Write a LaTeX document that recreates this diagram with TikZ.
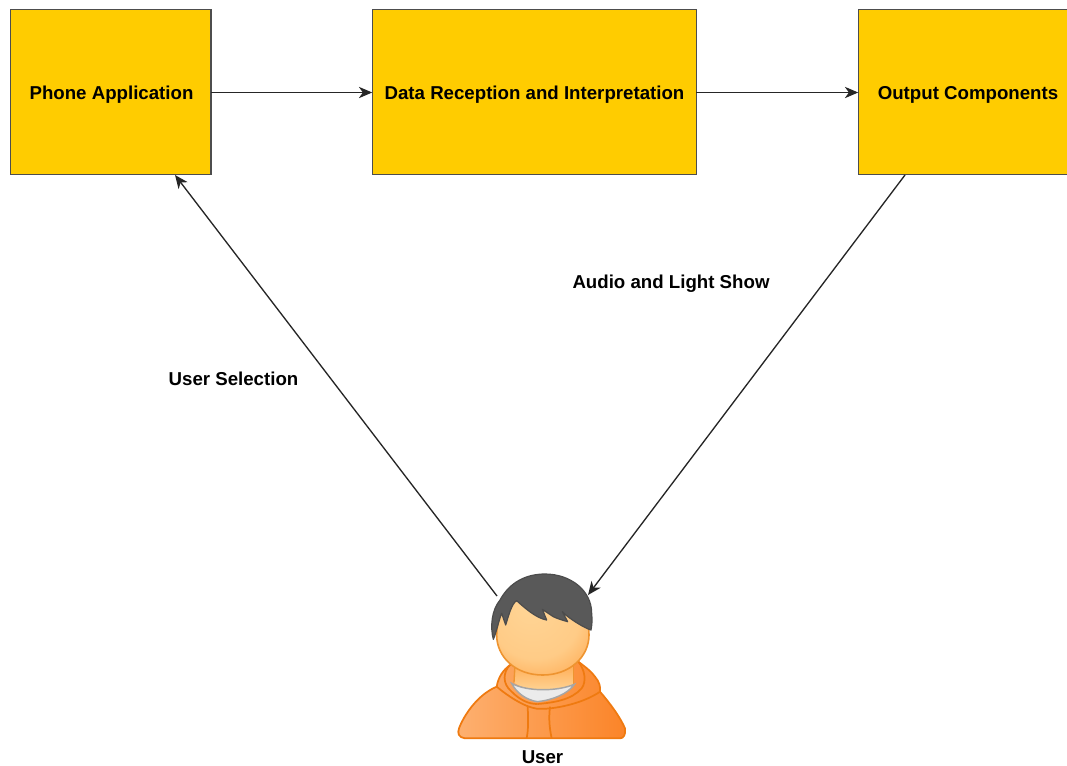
\documentclass[tikz,border=0pt]{standalone}
\usepackage{fontspec}
\setmainfont{Liberation Sans}
\usetikzlibrary{arrows.meta}

\definecolor{boxfill}{HTML}{FFCC00}
\definecolor{boxline}{HTML}{4D4D4D}
\definecolor{hairfill}{HTML}{595959}
\definecolor{hoodline}{HTML}{EF7A10}
\definecolor{hoodleft}{HTML}{FDB070}
\definecolor{hoodright}{HTML}{FB8428}
\definecolor{faceline}{HTML}{EE9430}
\definecolor{facetop}{HTML}{FFD596}
\definecolor{facebottom}{HTML}{FFAE58}

\pgfdeclareradialshading{facelight}{\pgfpoint{-8bp}{16bp}}{
  color(0bp)=(facetop); color(24bp)=(facetop!75!facebottom);
  color(36bp)=(facebottom); color(50bp)=(facebottom)}

\tikzset{
  blockbox/.style={draw=boxline, fill=boxfill, line width=1pt, anchor=north west,
    inner sep=0pt, outer sep=0pt},
  flowline/.style={draw=black!85, line width=1pt, -{Stealth[length=10pt,width=8.5pt,inset=3pt]}},
  flowtext/.style={font=\bfseries\fontsize{14}{16}\selectfont, inner sep=0pt, anchor=base},
  hoodpart/.style={draw=hoodline, line width=1.3pt, line join=round}
}

\begin{document}
\begin{tikzpicture}[x=.75pt,y=-.75pt]

      \useasboundingbox (0,0) rectangle (1067,765);

      \node[blockbox, minimum width=150.2pt, minimum height=123.7pt] (phone) at (10.7,9.8) {};
      \node[blockbox, minimum width=243pt, minimum height=123.7pt] (data)  at (372.2,9.8) {};
      \node[blockbox, minimum width=165pt, minimum height=123.7pt] (output) at (858.2,9.8) {};

      \node[flowtext] (phonetext)  at (111.5,99) {Phone Application};
      \node[flowtext] (datatext)   at (534.5,99) {Data Reception and Interpretation};
      \node[flowtext] (outputtext) at (968,99) {Output Components};
      \node[flowtext] (showtext)   at (671,288) {Audio and Light Show};
      \node[flowtext] (selecttext) at (233.5,385) {User Selection};
      \node[flowtext] (usertext)   at (542.5,763) {User};

      % figure of the user, in 3x crop units
      \begin{scope}[shift={(440,560)},scale=1/3]
        \path[hoodpart, left color=hoodleft, right color=hoodright]
          (75,535) .. controls (55,532) and (52,520) .. (57,505)
          .. controls (70,470) and (110,405) .. (170,380)
          .. controls (175,350) and (190,330) .. (210,315)
          -- (415,305)
          .. controls (435,320) and (455,335) .. (465,350)
          .. controls (478,365) and (482,380) .. (480,395)
          .. controls (510,430) and (540,470) .. (555,505)
          .. controls (558,525) and (550,535) .. (540,535) -- cycle;
        \path[hoodpart]
          (170,380) .. controls (200,405) and (250,440) .. (290,446)
          .. controls (340,450) and (430,430) .. (480,395);
        \path[hoodpart]
          (210,315) .. controls (190,335) and (185,370) .. (215,395)
          .. controls (240,420) and (265,432) .. (292,432);
        \path[hoodpart]
          (292,432) .. controls (340,428) and (395,420) .. (425,385)
          .. controls (440,365) and (435,330) .. (415,305);
        \path[top color=facebottom, bottom color=facetop]
          (225,315) -- (222,368) .. controls (260,395) and (350,395) .. (400,372) -- (400,315) -- cycle;
        \path[draw=faceline, line width=1pt] (225,315) -- (222,368);
        \path[draw=faceline, line width=1pt] (400,315) -- (400,372);
        \path[draw=black!35, line width=1.1pt, fill=black!8]
          (215,370) .. controls (260,395) and (350,395) .. (403,373)
          .. controls (385,400) and (340,420) .. (292,425)
          .. controls (260,420) and (230,400) .. (215,370) -- cycle;
        \path[hoodpart] (263,440) .. controls (265,480) and (265,510) .. (260,535);
        \path[hoodpart] (330,440) .. controls (325,480) and (330,510) .. (335,535);
        \path[draw=faceline, line width=1.2pt, shading=facelight]
          (308,345) .. controls (225,345) and (170,290) .. (170,225)
          .. controls (170,140) and (230,85) .. (308,85)
          .. controls (390,85) and (447,140) .. (447,225)
          .. controls (447,290) and (390,345) .. (308,345) -- cycle;
        \path[draw=black!70, line width=.9pt, fill=hairfill, line join=round]
          (160,238) .. controls (150,200) and (155,150) .. (180,120)
          .. controls (210,65) and (260,42) .. (315,42)
          .. controls (390,42) and (455,90) .. (455,160)
          .. controls (457,180) and (456,195) .. (453,210)
          .. controls (435,205) and (385,175) .. (367,155)
          -- (383,185) .. controls (365,180) and (350,175) .. (340,170)
          -- (307,148) -- (320,180)
          .. controls (290,175) and (255,145) .. (230,122)
          .. controls (215,130) and (205,170) .. (197,195)
          -- (185,160) .. controls (175,185) and (170,215) .. (160,238) -- cycle;
      \end{scope}

      \coordinate (userleft)  at (497,596);
      \coordinate (userright) at (588,595);
      \coordinate (phonein)   at (175,175);
      \coordinate (outputout) at (905,175);

      \path[flowline] (phone.east |- 0,92.5) -- (data.west |- 0,92.5);
      \path[flowline] (data.east |- 0,92.5) -- (output.west |- 0,92.5);
      \path[flowline] (userleft) -- (phonein);
      \path[flowline] (outputout) -- (userright);

    \end{tikzpicture}
\end{document}
